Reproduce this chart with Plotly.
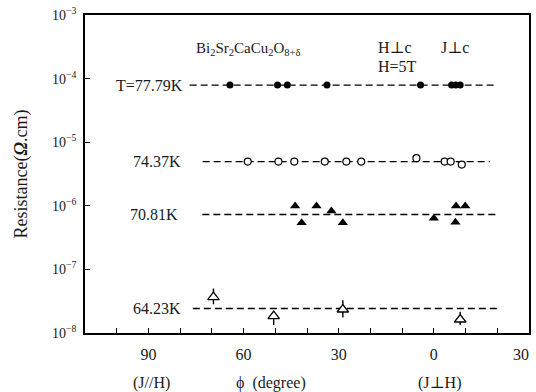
import numpy as np
import plotly.graph_objects as go

# ---- data (phi in degrees, resistance in ohm.cm) ----
phi_7779 = [64.3, 49.3, 46.2, 33.7, 4.2, -5.6, -6.9, -8.3]
res_7779 = [7.9e-5, 7.9e-5, 7.9e-5, 7.9e-5, 7.9e-5, 7.9e-5, 7.9e-5, 7.9e-5]

phi_7437 = [58.7, 49.0, 44.0, 34.4, 27.6, 22.9, 5.5, -3.4, -5.3, -8.8]
res_7437 = [4.95e-6, 4.95e-6, 4.95e-6, 4.95e-6, 4.95e-6, 4.95e-6, 5.6e-6, 4.95e-6, 4.95e-6, 4.45e-6]

phi_7081 = [43.75, 41.7, 37.0, 32.3, 28.7, 0.0, -7.0, -9.9, -6.8]
res_7081 = [9.9e-7, 5.4e-7, 9.9e-7, 8.3e-7, 5.4e-7, 6.4e-7, 9.9e-7, 9.9e-7, 5.5e-7]

phi_6423 = [69.5, 50.5, 28.7, -8.3]
res_6423 = [3.67e-8, 1.84e-8, 2.34e-8, 1.63e-8]
err_plus_6423 = [1.33e-8, 0.31e-8, 0.93e-8, 0.52e-8]
err_minus_6423 = [0.84e-8, 0.51e-8, 0.58e-8, 0.30e-8]

# fitted horizontal lines
line_labels = ["T=77.79K", "74.37K", "70.81K", "64.23K"]
line_level = [7.9e-5, 4.95e-6, 7.3e-7, 2.43e-8]
line_start = [77.0, 72.9, 73.0, 76.0]
line_end = [-20.0, -17.7, -20.0, -20.3]
label_x = [78.5, 79.0, 80.0, 79.0]

x_tickvals = [100, 90, 80, 70, 60, 50, 40, 30, 20, 10, 0, -10, -20]
x_ticktext = ["", "90", "", "", "60", "", "", "30", "", "", "0", "", ""]
x_edge_label = "30"   # label of phi = -30 at the right border
y_tickvals = [1e-3, 1e-4, 1e-5, 1e-6, 1e-7, 1e-8]
y_ticktext = ["10<sup>−3</sup>", "10<sup>−4</sup>", "10<sup>−5</sup>", "10<sup>−6</sup>",
              "10<sup>−7</sup>", "10<sup>−8</sup>"]

FONT = "Liberation Serif, DejaVu Serif, serif"
TXT = "#1a1a1a"

W, H = 536, 392
ML, MR, MT, MB = 85, 5, 12, 59
PW, PH = W - ML - MR, H - MT - MB

fig = go.Figure()

for lev, s, e in zip(line_level, line_start, line_end):
    fig.add_trace(go.Scatter(x=[s, e], y=[lev, lev], mode="lines",
                             line=dict(color="black", width=1.4, dash="7px,4px"),
                             hoverinfo="skip", showlegend=False))

fig.add_trace(go.Scatter(x=phi_7779, y=res_7779, mode="markers",
                         marker=dict(symbol="circle", size=7, color="black"),
                         showlegend=False))
fig.add_trace(go.Scatter(x=phi_7437, y=res_7437, mode="markers",
                         marker=dict(symbol="circle", size=7, color="white",
                                     line=dict(color="black", width=1.2)),
                         showlegend=False))
fig.add_trace(go.Scatter(x=phi_7081, y=res_7081, mode="markers",
                         marker=dict(symbol="triangle-up", size=9, color="black"),
                         showlegend=False))
fig.add_trace(go.Scatter(x=phi_6423, y=res_6423, mode="markers",
                         marker=dict(symbol="triangle-up", size=10, color="white",
                                     line=dict(color="black", width=1.3)),
                         error_y=dict(type="data", symmetric=False, array=err_plus_6423,
                                      arrayminus=err_minus_6423, color="black",
                                      thickness=1.4, width=0),
                         showlegend=False))

annotations = []
for lab, lev, lx in zip(line_labels, line_level, label_x):
    annotations.append(dict(x=lx, y=np.log10(lev), xref="x", yref="y", text=lab,
                            showarrow=False, xanchor="right", yanchor="middle",
                            font=dict(family=FONT, size=16, color=TXT)))


def pp(x, y, text, size=16, xanchor="left", yanchor="middle"):
    return dict(x=(x - ML) / PW, y=1 - (y - MT) / PH, xref="paper", yref="paper",
                text=text, showarrow=False, xanchor=xanchor, yanchor=yanchor,
                font=dict(family=FONT, size=size, color=TXT))


annotations += [
    pp(194, 46, "Bi<sub>2</sub>Sr<sub>2</sub>CaCu<sub>2</sub>O<sub>8+δ</sub>", 15),
    pp(377, 45, "H⊥c", 16),
    pp(441, 45, "J⊥c", 16),
    pp(377, 64, "H=5T", 16),
    pp(152, 383, "(J//H)", 16, "center"),
    pp(272, 383, "ϕ  (degree)", 16, "center"),
    pp(441, 383, "(J⊥H)", 16, "center"),
    pp(533, 355, x_edge_label, 16, "right"),
]

fig.update_layout(
    width=W, height=H,
    margin=dict(l=ML, r=MR, t=MT, b=MB),
    paper_bgcolor="white", plot_bgcolor="white",
    font=dict(family=FONT, size=16, color=TXT),
    annotations=annotations,
    xaxis=dict(range=[110, -30], tickmode="array", tickvals=x_tickvals, ticktext=x_ticktext,
               ticks="inside", ticklen=5, tickwidth=1.3, tickcolor="black",
               ticklabelstandoff=6,
               showgrid=False, zeroline=False, showline=True, mirror=True,
               linecolor="black", linewidth=1.5, tickfont=dict(family=FONT, size=16, color=TXT)),
    yaxis=dict(type="log", range=[-8, -3], tickmode="array", tickvals=y_tickvals,
               ticktext=y_ticktext, ticks="inside", ticklen=5, tickwidth=1.3,
               tickcolor="black", showgrid=False, zeroline=False, showline=True,
               mirror=True, linecolor="black", linewidth=1.5,
               ticklabelstandoff=4,
               tickfont=dict(family=FONT, size=14, color=TXT),
               title=dict(text="Resistance(<b><i>Ω</i></b>.cm)", standoff=20,
                          font=dict(family=FONT, size=18, color=TXT))),
)

fig.write_html("out.html")
